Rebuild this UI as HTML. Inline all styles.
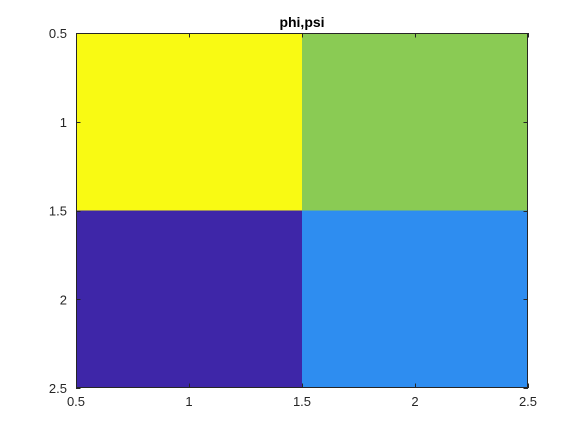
<!DOCTYPE html>
<html><head><meta charset="utf-8"><style>
body{margin:0;background:#fff;width:583px;height:437px;overflow:hidden}
svg text{font-family:"Liberation Sans",sans-serif;font-size:13px;fill:#262626}
</style></head><body>
<svg id="chart" width="583" height="437" xmlns="http://www.w3.org/2000/svg"></svg>
<script>
const rows = [1, 2];
const cols = [1, 2];
const values = [[4, 3], [1, 2]];
const xTicks = [0.5, 1, 1.5, 2, 2.5];
const yTicks = [0.5, 1, 1.5, 2, 2.5];
const palette = ['#3E26A8', '#2E8DF0', '#8ACB54', '#F9FA13'];
const L=76,R=528,T=33,B=388;
const sx=v=>L+(v-0.5)/2*(R-L);
const sy=v=>T+(v-0.5)/2*(B-T);
const svg=document.getElementById('chart');
const NS='http://www.w3.org/2000/svg';
function mk(tag,attrs){const e=document.createElementNS(NS,tag);for(const k in attrs)e.setAttribute(k,attrs[k]);svg.appendChild(e);return e;}
const vmin=Math.min(...values.flat()),vmax=Math.max(...values.flat());
rows.forEach((r,i)=>cols.forEach((c,j)=>{
  const v=values[i][j];
  const idx=Math.round((v-vmin)/(vmax-vmin)*(palette.length-1));
  const x0=sx(c-0.5),x1=sx(c+0.5),y0=sy(r-0.5),y1=sy(r+0.5);
  const el=mk('rect',{x:x0,y:y0,width:x1-x0,height:y1-y0,fill:palette[idx]});
  
  
}));
const box=mk('rect',{x:L+0.5,y:T+0.5,width:R-L-1,height:B-T-1,fill:'none',stroke:'#262626','stroke-width':1});


xTicks.forEach(t=>{
  const x=Math.round(sx(t))+0.5;
  mk('line',{x1:x,x2:x,y1:B,y2:B-4.5,stroke:'#262626'});
  mk('line',{x1:x,x2:x,y1:T,y2:T+4.5,stroke:'#262626'});
  const tx=mk('text',{x:sx(t),y:B+18,'text-anchor':'middle'});tx.textContent=t;
  
  
});
yTicks.forEach(t=>{
  const y=Math.round(sy(t))+0.5;
  mk('line',{x1:L,x2:L+4.5,y1:y,y2:y,stroke:'#262626'});
  mk('line',{x1:R,x2:R-4.5,y1:y,y2:y,stroke:'#262626'});
  const ty=mk('text',{x:L-9,y:sy(t)+5,'text-anchor':'end'});ty.textContent=t;
  
  
});
const title=mk('text',{x:(L+R)/2,y:27,'text-anchor':'middle','font-weight':'bold',style:'font-size:14px;fill:#000'});
title.textContent='phi,psi';


</script>
</body></html>
